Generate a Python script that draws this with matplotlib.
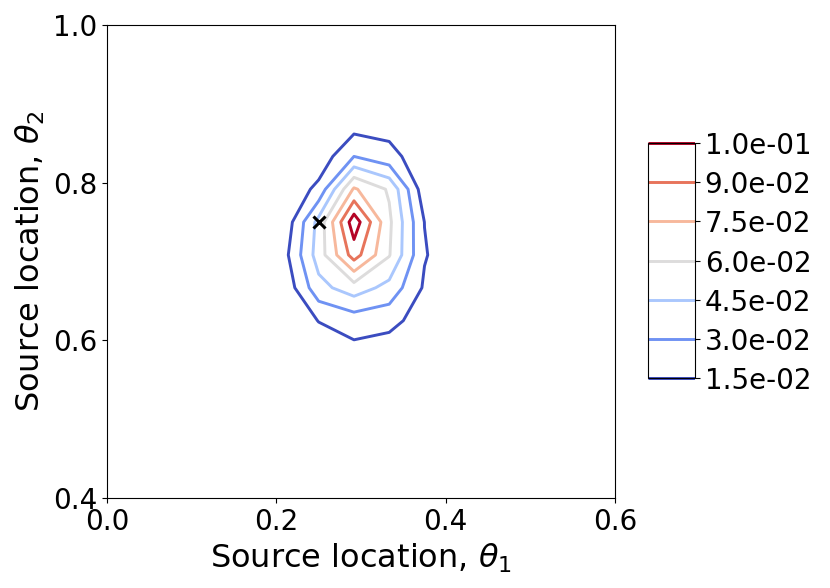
# Posterior contours over the source location, with the true source marked

import matplotlib.pyplot as plt
import numpy as np

# Grid of source locations the density was evaluated on
theta1 = [0.1667, 0.2083, 0.25, 0.2917, 0.3333, 0.375, 0.4167]
theta2 = [0.5417, 0.5833, 0.625, 0.6667, 0.7083, 0.75, 0.7917, 0.8333, 0.875, 0.9167]

# Density values, one row per theta2 (bottom to top)
density = [
    [0.0, 0.0, 0.0, 0.002, 0.001, 0.0, 0.0],
    [0.0, 0.0, 0.004, 0.010, 0.006, 0.002, 0.0],
    [0.0, 0.001, 0.0155, 0.022, 0.020, 0.0075, 0.0],
    [0.0, 0.003, 0.040, 0.053, 0.040, 0.013, 0.0],
    [0.0, 0.009, 0.052, 0.097, 0.061, 0.016, 0.005],
    [0.0, 0.003, 0.050, 0.114, 0.063, 0.0148, 0.003],
    [0.0, 0.002, 0.019, 0.077, 0.058, 0.0056, 0.0],
    [0.0, 0.0, 0.005, 0.030, 0.020, 0.006, 0.0],
    [0.0, 0.0, 0.001, 0.008, 0.009, 0.002, 0.0],
    [0.0, 0.0, 0.0, 0.001, 0.001, 0.0, 0.0],
]

# Contour levels and their colorbar labels
levels = [0.015, 0.03, 0.045, 0.06, 0.075, 0.09, 0.105]
level_labels = ['1.5e-02', '3.0e-02', '4.5e-02', '6.0e-02', '7.5e-02', '9.0e-02', '1.0e-01']

# True source location
true_source = (0.25, 0.75)

fig = plt.figure(figsize=(8.3, 5.88), dpi=100)
ax = fig.add_axes([0.1289, 0.153, 0.6121, 0.8045])
cax = fig.add_axes([0.7807, 0.357, 0.0566, 0.3997])

X, Y = np.meshgrid(theta1, theta2)
cs = ax.contour(X, Y, np.array(density), levels=levels, cmap='coolwarm', linewidths=2.1)
ax.plot(true_source[0], true_source[1], 'kx', markersize=9, markeredgewidth=2.2)

ax.set_xlim(0.0, 0.6)
ax.set_ylim(0.4, 1.0)
ax.set_xticks([0.0, 0.2, 0.4, 0.6])
ax.set_yticks([0.4, 0.6, 0.8, 1.0])
ax.tick_params(labelsize=20)
ax.set_xlabel(r'Source location, $\theta_1$', fontsize=23)
ax.set_ylabel(r'Source location, $\theta_2$', fontsize=23)

# Colorbar
cbar = fig.colorbar(cs, cax=cax)
cbar.set_ticks(levels, labels=level_labels)
cbar.ax.tick_params(labelsize=20)

fig.savefig('out.png', dpi=100)
